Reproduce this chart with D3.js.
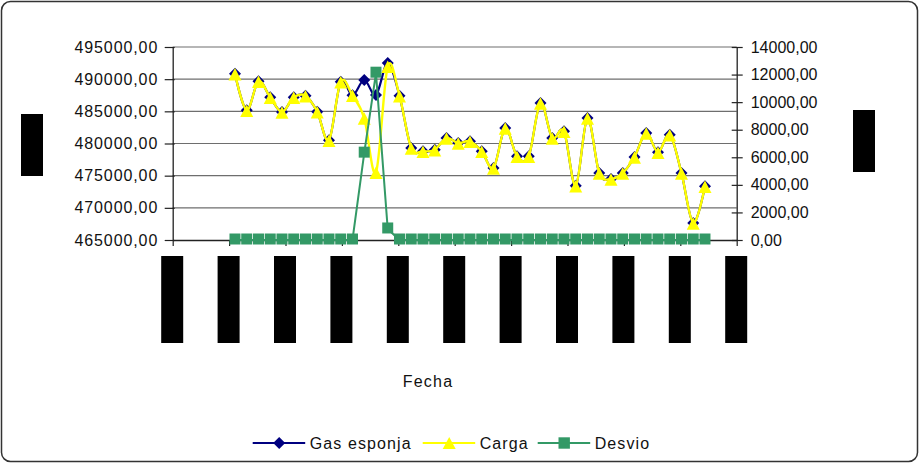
<!DOCTYPE html>
<html>
<head>
<meta charset="utf-8">
<script src="https://cdn.jsdelivr.net/npm/d3@7/dist/d3.min.js"></script>
<style>
  html, body { margin: 0; padding: 0; background: #fff; }
  svg { display: block; font-family: "Liberation Sans", Arial, sans-serif; }
</style>
</head>
<body>
<svg id="chart" width="920" height="466"></svg>
<script>
// Daily readings, one value per day
const gasEsponja = [490850, 485160, 489670, 487180, 484900, 487180, 487430, 484940, 480500, 489610,
  487490, 489870, 487540, 492500, 487430, 479300, 478790, 479040, 480855, 480080,
  480340, 478790, 476190, 482410, 478010, 478010, 486295, 480855, 481900, 473440,
  483960, 475415, 474480, 475415, 477900, 481630, 478630, 481370, 475415, 467640, 473350];
const carga = [490850, 485160, 489670, 487180, 484900, 487180, 487430, 484940, 480500, 489610,
  487490, 483960, 475520, 492000, 487430, 479300, 478790, 479040, 480855, 480080,
  480340, 478790, 476190, 482410, 478010, 478010, 486295, 480855, 481900, 473440,
  483960, 475415, 474480, 475415, 477900, 481630, 478630, 481370, 475415, 467640, 473350];
const desvio = [0, 0, 0, 0, 0, 0, 0, 0, 0, 0,
  0, 6300, 12100, 800, 0, 0, 0, 0, 0, 0,
  0, 0, 0, 0, 0, 0, 0, 0, 0, 0,
  0, 0, 0, 0, 0, 0, 0, 0, 0, 0, 0];
const leftTicks = [465000, 470000, 475000, 480000, 485000, 490000, 495000];
const rightTicks = [0, 2000, 4000, 6000, 8000, 10000, 12000, 14000];
const dateTickCount = 11;
const seriesNames = ["Gas esponja", "Carga", "Desvio"];
const xTitle = "Fecha";

const svg = d3.select("#chart");
const navy = "#000080", yellow = "#FFFF00", green = "#339966";

const plot = { left: 172.7, right: 736.7, top: 47, bottom: 240 };

const x = d3.scaleLinear().domain([-5.3, 42.7]).range([plot.left, plot.right]);
const yL = d3.scaleLinear().domain([465000, 495000]).range([plot.bottom, plot.top]);
const yR = d3.scaleLinear().domain([0, 14000]).range([plot.bottom, plot.top]);

const fmt = d3.formatLocale({ decimal: ",", thousands: "", grouping: [3], currency: ["", ""] }).format(".2f");

// outer frame
svg.append("rect")
  .attr("x", 1.5).attr("y", 1.5).attr("width", 916).attr("height", 460)
  .attr("rx", 9).attr("ry", 9)
  .attr("fill", "#fff").attr("stroke", "#333").attr("stroke-width", 1.5);

// horizontal gridlines
svg.append("g").selectAll("line")
  .data(leftTicks.slice(1))
  .join("line")
  .attr("x1", plot.left).attr("x2", plot.right)
  .attr("y1", d => yL(d)).attr("y2", d => yL(d))
  .attr("stroke", "#6e6e6e").attr("stroke-width", 1.2);

// left axis
const gL = svg.append("g").attr("transform", `translate(${plot.left},0)`)
  .call(d3.axisLeft(yL).tickValues(leftTicks).tickSize(8).tickSizeOuter(0).tickPadding(8).tickFormat(fmt));
gL.select(".domain").attr("stroke", "#222").attr("stroke-width", 1.3);
gL.selectAll(".tick line").attr("stroke", "#222").attr("stroke-width", 1.2).attr("x2", -8).attr("x1", 2);
gL.selectAll(".tick text")
  .attr("font-size", 16).attr("fill", "#111")
  .attr("letter-spacing", "0.9px").attr("x", -14.5)
  .attr("font-family", "'Liberation Sans', Arial, sans-serif");

// right axis
const gR = svg.append("g").attr("transform", `translate(${plot.right},0)`)
  .call(d3.axisRight(yR).tickValues(rightTicks).tickSize(6).tickSizeOuter(0).tickPadding(10).tickFormat(fmt));
gR.select(".domain").attr("stroke", "#222").attr("stroke-width", 1.3);
gR.selectAll(".tick line").attr("stroke", "#222").attr("stroke-width", 1.2).attr("x1", -5).attr("x2", 6);
gR.selectAll(".tick text")
  .attr("font-size", 16).attr("fill", "#111").attr("x", 14)
  .attr("font-family", "'Liberation Sans', Arial, sans-serif");

// bottom axis (date ticks; labels are drawn as solid blocks)
const [d0, d1] = x.domain();
const dateTicks = d3.range(dateTickCount).map(k => d0 + k * (d1 - d0) / (dateTickCount - 1));
const gB = svg.append("g").attr("transform", `translate(0,${plot.bottom})`)
  .call(d3.axisBottom(x).tickValues(dateTicks).tickSize(6).tickSizeOuter(0).tickFormat(""));
gB.select(".domain").attr("stroke", "#222").attr("stroke-width", 1.3);
gB.selectAll(".tick line").attr("stroke", "#222").attr("stroke-width", 1.2);

svg.append("g").selectAll("rect")
  .data(dateTicks)
  .join("rect")
  .attr("x", d => x(d) - 11.5).attr("y", 256)
  .attr("width", 22).attr("height", 87)
  .attr("fill", "#000");

// axis title blocks
svg.append("rect").attr("x", 21).attr("y", 114).attr("width", 22).attr("height", 62).attr("fill", "#000");
svg.append("rect").attr("x", 853).attr("y", 110).attr("width", 22).attr("height", 62).attr("fill", "#000");

// x axis title
svg.append("text")
  .attr("x", 428).attr("y", 387)
  .attr("text-anchor", "middle")
  .attr("font-size", 16).attr("letter-spacing", "1.2px").attr("fill", "#111")
  .text(xTitle);

// marker shapes
const diamondPath = r => `M0,${-r}L${r},0L0,${r}L${-r},0Z`;
const trianglePath = (w, h) => `M0,${-h}L${w},${h}L${-w},${h}Z`;
const squarePath = s => `M${-s},${-s}H${s}V${s}H${-s}Z`;

const smooth = d3.curveCardinal.tension(0);

// Gas esponja
const lineGas = d3.line().x((d, i) => x(i)).y(d => yL(d)).curve(smooth);
svg.append("path").datum(gasEsponja)
  .attr("d", lineGas).attr("fill", "none")
  .attr("stroke", navy).attr("stroke-width", 2.2);
svg.append("g").selectAll("path")
  .data(gasEsponja)
  .join("path")
  .attr("transform", (d, i) => `translate(${x(i)},${yL(d)})`)
  .attr("d", diamondPath(6))
  .attr("fill", navy);

// Carga
const lineCarga = d3.line().x((d, i) => x(i)).y(d => yL(d)).curve(smooth);
svg.append("path").datum(carga)
  .attr("d", lineCarga).attr("fill", "none")
  .attr("stroke", yellow).attr("stroke-width", 2.4);
svg.append("g").selectAll("path")
  .data(carga)
  .join("path")
  .attr("transform", (d, i) => `translate(${x(i)},${yL(d) + 0.5})`)
  .attr("d", trianglePath(6.5, 6.2))
  .attr("fill", yellow);

// Desvio
const lineDesvio = d3.line().x((d, i) => x(i)).y(d => yR(d));
svg.append("path").datum(desvio)
  .attr("d", lineDesvio).attr("fill", "none")
  .attr("stroke", green).attr("stroke-width", 2);
svg.append("g").selectAll("path")
  .data(desvio)
  .join("path")
  .attr("transform", (d, i) => `translate(${x(i)},${yR(d) - 1})`)
  .attr("d", squarePath(5.5))
  .attr("fill", green);

// legend
const legend = svg.append("g").attr("transform", "translate(0,443)");
const legendItems = [
  { name: seriesNames[0], color: navy, x0: 252.7, marker: diamondPath(6) },
  { name: seriesNames[1], color: yellow, x0: 422.7, marker: trianglePath(6.5, 6) },
  { name: seriesNames[2], color: green, x0: 537.7, marker: squarePath(5.7) }
];
const li = legend.selectAll("g").data(legendItems).join("g")
  .attr("transform", d => `translate(${d.x0},0)`);
li.append("line").attr("x1", 0).attr("x2", 52.5).attr("y1", 0).attr("y2", 0)
  .attr("stroke", d => d.color).attr("stroke-width", 2);
li.append("path").attr("transform", "translate(26.5,0)").attr("d", d => d.marker).attr("fill", d => d.color);
li.append("text").attr("x", 57).attr("y", 6)
  .attr("font-size", 16).attr("letter-spacing", "1.1px").attr("fill", "#111")
  .text(d => d.name);
</script>
</body>
</html>
